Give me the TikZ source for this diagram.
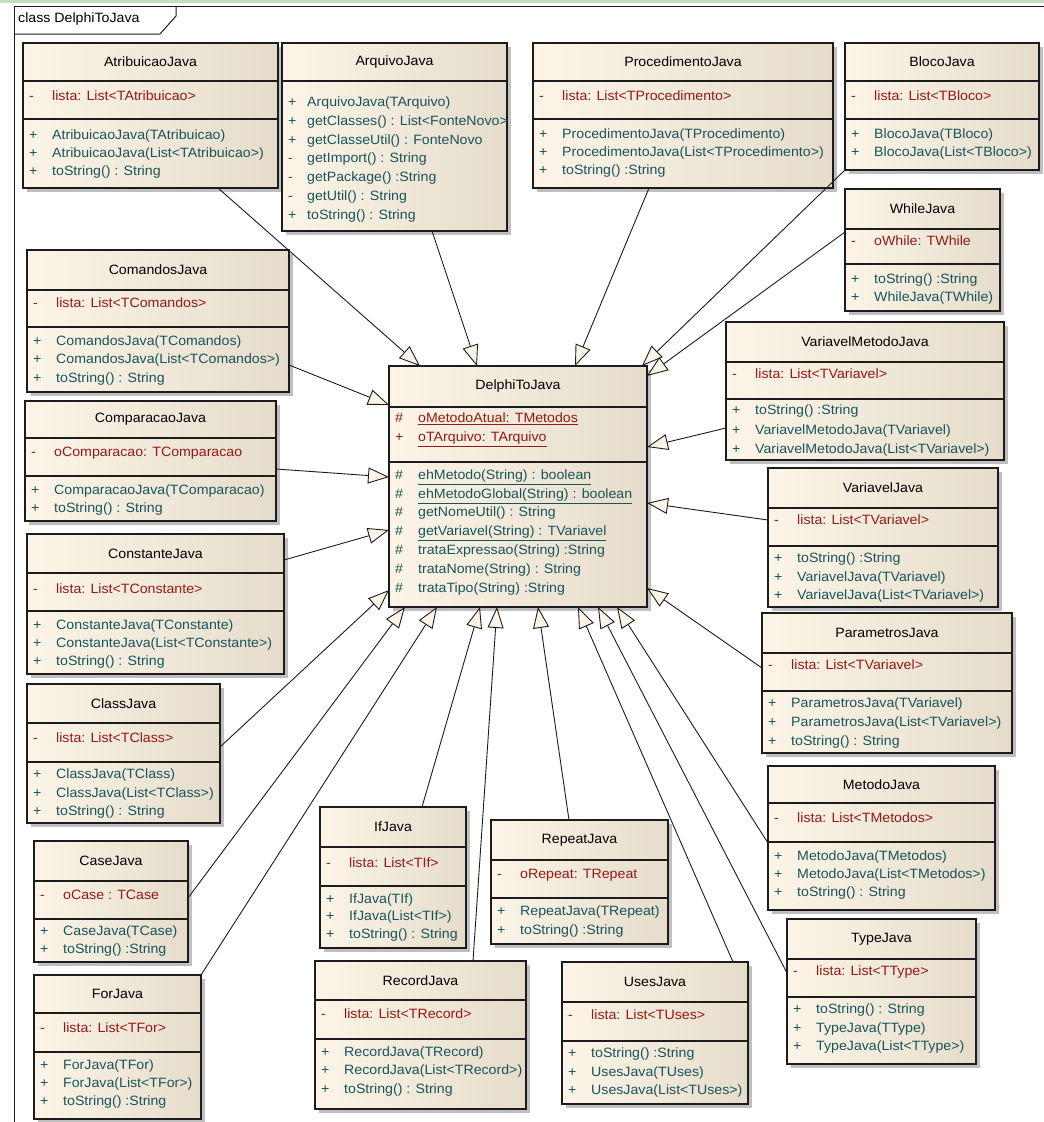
\documentclass[tikz,border=0pt]{standalone}
\usepackage{fontspec}
\setmainfont{Liberation Sans}[FakeStretch=1.05]
\usetikzlibrary{arrows.meta,shadows}

\definecolor{boxL}{RGB}{252,245,231}
\definecolor{boxR}{RGB}{229,220,203}
\definecolor{attrc}{RGB}{150,24,24}
\definecolor{methc}{RGB}{24,84,90}
\definecolor{edgec}{RGB}{28,28,28}
\definecolor{barc}{RGB}{200,218,200}

\newcommand\umlfont{\fontsize{13.5}{16}\selectfont}
% horizontal offset of member text from the box's left edge
\newcommand\memberoffset{29}

\tikzset{
  classbox/.style={draw=edgec, line width=1.3pt, left color=boxL, right color=boxR,
    inner sep=0pt, outer sep=0pt,
    drop shadow={shadow xshift=3.5pt, shadow yshift=-3.5pt, fill=black!50, opacity=0.5}},
  sepline/.style={draw=edgec, line width=1.2pt},
  ctitle/.style={font=\umlfont, text=black, inner sep=0pt},
  attr/.style={font=\umlfont, text=attrc, anchor=mid west, inner sep=0pt},
  meth/.style={font=\umlfont, text=methc, anchor=mid west, inner sep=0pt},
  gen/.style={draw=edgec, line width=0.9pt,
    -{Triangle[length=21pt, width=16pt, fill=boxL, line width=0.9pt]}},
}

% class box: name, title, x1, y1, x2, y2, y of the title separator
\newcommand\umlcls[7]{%
  \node[classbox, anchor=north west, minimum width={(#5-#3)*1pt},
        minimum height={(#6-#4)*1pt}] (#1) at (#3,#4) {};
  \draw[sepline] (#3,#7) -- (#5,#7);
  \node[ctitle] (#1-name) at ({(#3+#5)/2},{(#4+#7)/2}) {#2};
}
% compartment separator: x1, x2, y
\newcommand\csep[3]{\draw[sepline] (#1,#3) -- (#2,#3);}
% member row: node name, style, box x1, y, visibility, text
\newcommand\crow[6]{%
  \node[#2] (#1-v) at ({#3+6},#4) {#5};
  \node[#2] (#1) at ({#3+\memberoffset},#4) {#6};
}

\begin{document}
\begin{tikzpicture}[x=1pt, y=-1pt]
\useasboundingbox (0,0) rectangle (1044,1122);
\fill[white] (0,0) rectangle (1044,1122);

% window strip and diagram frame
\fill[barc] (0,0) rectangle (1044,3);
\draw[edgec, line width=1pt] (14,1130) -- (14,6) -- (1050,6);
\draw[edgec, line width=1pt] (14,34) -- (160,34) -- (176,16) -- (176,6);
\node[font=\umlfont, anchor=mid west, inner sep=0pt] (frame-label) at (18,20) {class DelphiToJava};

% ---------- top row ----------
\umlcls{atrib}{AtribuicaoJava}{23}{43}{278}{188}{81}
\csep{23}{278}{119}
\crow{atrib-a1}{attr}{23}{98}{-}{lista: List<TAtribuicao>}
\crow{atrib-m1}{meth}{23}{137}{+}{AtribuicaoJava(TAtribuicao)}
\crow{atrib-m2}{meth}{23}{155}{+}{AtribuicaoJava(List<TAtribuicao>)}
\crow{atrib-m3}{meth}{23}{173}{+}{toString() : String}

\umlcls{arq}{ArquivoJava}{282}{43}{507}{231}{81}
\renewcommand\memberoffset{25}
\crow{arq-m1}{meth}{282}{104}{+}{ArquivoJava(TArquivo)}
\crow{arq-m2}{meth}{282}{123}{+}{getClasses() : List<FonteNovo>}
\crow{arq-m3}{meth}{282}{141.5}{+}{getClasseUtil() : FonteNovo}
\crow{arq-m4}{meth}{282}{160}{-}{getImport() : String}
\crow{arq-m5}{meth}{282}{179}{-}{getPackage() :String}
\crow{arq-m6}{meth}{282}{198}{-}{getUtil() : String}
\crow{arq-m7}{meth}{282}{217}{+}{toString() : String}
\renewcommand\memberoffset{29}

\umlcls{proc}{ProcedimentoJava}{533}{43}{833}{188}{81}
\csep{533}{833}{119}
\crow{proc-a1}{attr}{533}{98}{-}{lista: List<TProcedimento>}
\crow{proc-m1}{meth}{533}{136}{+}{ProcedimentoJava(TProcedimento)}
\crow{proc-m2}{meth}{533}{154}{+}{ProcedimentoJava(List<TProcedimento>)}
\crow{proc-m3}{meth}{533}{172}{+}{toString() :String}

\umlcls{bloco}{BlocoJava}{845}{43}{1039}{170}{81}
\csep{845}{1039}{119}
\crow{bloco-a1}{attr}{845}{98}{-}{lista: List<TBloco>}
\crow{bloco-m1}{meth}{845}{136}{+}{BlocoJava(TBloco)}
\crow{bloco-m2}{meth}{845}{154}{+}{BlocoJava(List<TBloco>)}

\umlcls{while}{WhileJava}{845}{189}{1000}{311}{229}
\csep{845}{1000}{264}
\crow{while-a1}{attr}{845}{243}{-}{oWhile: TWhile}
\crow{while-m1}{meth}{845}{281}{+}{toString() :String}
\crow{while-m2}{meth}{845}{299}{+}{WhileJava(TWhile)}

% ---------- left column ----------
\umlcls{com}{ComandosJava}{27}{250}{289}{392}{290}
\csep{27}{289}{327}
\crow{com-a1}{attr}{27}{305}{-}{lista: List<TComandos>}
\crow{com-m1}{meth}{27}{343}{+}{ComandosJava(TComandos)}
\crow{com-m2}{meth}{27}{361}{+}{ComandosJava(List<TComandos>)}
\crow{com-m3}{meth}{27}{380}{+}{toString() : String}

\umlcls{comp}{ComparacaoJava}{25}{401}{276}{521}{438}
\csep{25}{276}{476}
\crow{comp-a1}{attr}{25}{454}{-}{oComparacao: TComparacao}
\crow{comp-m1}{meth}{25}{492}{+}{ComparacaoJava(TComparacao)}
\crow{comp-m2}{meth}{25}{510}{+}{toString() : String}

\umlcls{const}{ConstanteJava}{27}{534}{284}{674}{573}
\csep{27}{284}{611}
\crow{const-a1}{attr}{27}{591}{-}{lista: List<TConstante>}
\crow{const-m1}{meth}{27}{627}{+}{ConstanteJava(TConstante)}
\crow{const-m2}{meth}{27}{645}{+}{ConstanteJava(List<TConstante>)}
\crow{const-m3}{meth}{27}{663}{+}{toString() : String}

\umlcls{class}{ClassJava}{27}{684}{220}{823}{723}
\csep{27}{220}{762}
\crow{class-a1}{attr}{27}{740}{-}{lista: List<TClass>}
\crow{class-m1}{meth}{27}{776}{+}{ClassJava(TClass)}
\crow{class-m2}{meth}{27}{795}{+}{ClassJava(List<TClass>)}
\crow{class-m3}{meth}{27}{813}{+}{toString() : String}

\umlcls{case}{CaseJava}{34}{841}{188}{962}{881}
\csep{34}{188}{919}
\crow{case-a1}{attr}{34}{897}{-}{oCase : TCase}
\crow{case-m1}{meth}{34}{933}{+}{CaseJava(TCase)}
\crow{case-m2}{meth}{34}{951}{+}{toString() :String}

\umlcls{for}{ForJava}{34}{975}{201}{1119}{1013}
\csep{34}{201}{1052}
\crow{for-a1}{attr}{34}{1030}{-}{lista: List<TFor>}
\crow{for-m1}{meth}{34}{1067}{+}{ForJava(TFor)}
\crow{for-m2}{meth}{34}{1085}{+}{ForJava(List<TFor>)}
\crow{for-m3}{meth}{34}{1103}{+}{toString() :String}

% ---------- bottom row ----------
\umlcls{if}{IfJava}{320}{807}{466}{948}{847}
\csep{320}{466}{886}
\crow{if-a1}{attr}{320}{865}{-}{lista: List<TIf>}
\crow{if-m1}{meth}{320}{901}{+}{IfJava(TIf)}
\crow{if-m2}{meth}{320}{918}{+}{IfJava(List<TIf>)}
\crow{if-m3}{meth}{320}{936}{+}{toString() : String}

\umlcls{repeat}{RepeatJava}{491}{820}{668}{944}{860}
\csep{491}{668}{898}
\crow{repeat-a1}{attr}{491}{876}{-}{oRepeat: TRepeat}
\crow{repeat-m1}{meth}{491}{913}{+}{RepeatJava(TRepeat)}
\crow{repeat-m2}{meth}{491}{932}{+}{toString() :String}

\umlcls{record}{RecordJava}{315}{961}{526}{1109}{1000}
\csep{315}{526}{1039}
\crow{record-a1}{attr}{315}{1016}{-}{lista: List<TRecord>}
\crow{record-m1}{meth}{315}{1054}{+}{RecordJava(TRecord)}
\crow{record-m2}{meth}{315}{1072}{+}{RecordJava(List<TRecord>)}
\crow{record-m3}{meth}{315}{1091}{+}{toString() : String}

\umlcls{uses}{UsesJava}{562}{962}{748}{1104}{1002}
\csep{562}{748}{1041}
\crow{uses-a1}{attr}{562}{1017}{-}{lista: List<TUses>}
\crow{uses-m1}{meth}{562}{1055}{+}{toString() :String}
\crow{uses-m2}{meth}{562}{1074}{+}{UsesJava(TUses)}
\crow{uses-m3}{meth}{562}{1092}{+}{UsesJava(List<TUses>)}

% ---------- right column ----------
\umlcls{varmet}{VariavelMetodoJava}{726}{322}{1004}{460}{362}
\csep{726}{1004}{399}
\crow{varmet-a1}{attr}{726}{376}{-}{lista: List<TVariavel>}
\crow{varmet-m1}{meth}{726}{412}{+}{toString() :String}
\crow{varmet-m2}{meth}{726}{432}{+}{VariavelMetodoJava(TVariavel)}
\crow{varmet-m3}{meth}{726}{451}{+}{VariavelMetodoJava(List<TVariavel>)}

\umlcls{var}{VariavelJava}{768}{468}{998}{607}{508}
\csep{768}{998}{546}
\crow{var-a1}{attr}{768}{522}{-}{lista: List<TVariavel>}
\crow{var-m1}{meth}{768}{560}{+}{toString() :String}
\crow{var-m2}{meth}{768}{579}{+}{VariavelJava(TVariavel)}
\crow{var-m3}{meth}{768}{597}{+}{VariavelJava(List<TVariavel>)}

\umlcls{param}{ParametrosJava}{762}{613}{1012}{753}{653}
\csep{762}{1012}{691}
\crow{param-a1}{attr}{762}{667}{-}{lista: List<TVariavel>}
\crow{param-m1}{meth}{762}{705}{+}{ParametrosJava(TVariavel)}
\crow{param-m2}{meth}{762}{724}{+}{ParametrosJava(List<TVariavel>)}
\crow{param-m3}{meth}{762}{743}{+}{toString() : String}

\umlcls{metodo}{MetodoJava}{768}{766}{995}{910}{803}
\csep{768}{995}{842}
\crow{metodo-a1}{attr}{768}{820}{-}{lista: List<TMetodos>}
\crow{metodo-m1}{meth}{768}{858}{+}{MetodoJava(TMetodos)}
\crow{metodo-m2}{meth}{768}{876}{+}{MetodoJava(List<TMetodos>)}
\crow{metodo-m3}{meth}{768}{894}{+}{toString() : String}

\umlcls{type}{TypeJava}{787}{919}{976}{1064}{959}
\csep{787}{976}{997}
\crow{type-a1}{attr}{787}{973}{-}{lista: List<TType>}
\crow{type-m1}{meth}{787}{1011}{+}{toString() : String}
\crow{type-m2}{meth}{787}{1030}{+}{TypeJava(TType)}
\crow{type-m3}{meth}{787}{1048}{+}{TypeJava(List<TType>)}

% ---------- central class ----------
\umlcls{d2j}{DelphiToJava}{389}{366}{647}{607}{407}
\csep{389}{647}{462}
\crow{d2j-a1}{attr}{389}{420}{\#}{\underline{oMetodoAtual: TMetodos}}
\crow{d2j-a2}{attr}{389}{439}{+}{\underline{oTArquivo: TArquivo}}
\crow{d2j-m1}{meth}{389}{477}{\#}{\underline{ehMetodo(String) : boolean}}
\crow{d2j-m2}{meth}{389}{496}{\#}{\underline{ehMetodoGlobal(String) : boolean}}
\crow{d2j-m3}{meth}{389}{514}{\#}{getNomeUtil() : String}
\crow{d2j-m4}{meth}{389}{533}{\#}{\underline{getVariavel(String) : TVariavel}}
\crow{d2j-m5}{meth}{389}{552}{\#}{trataExpressao(String) :String}
\crow{d2j-m6}{meth}{389}{571}{\#}{trataNome(String) : String}
\crow{d2j-m7}{meth}{389}{590}{\#}{trataTipo(String) :String}

% ---------- generalizations ----------
\draw[gen] ([xshift=195pt]atrib.south west) -- ([xshift=31pt]d2j.north west);
\draw[gen] ([xshift=150pt]arq.south west) -- ([xshift=88pt]d2j.north west);
\draw[gen] ([xshift=116pt]proc.south west) -- ([xshift=186pt]d2j.north west);
\draw[gen] (bloco.south west) -- ([xshift=-5pt]d2j.north east);
\draw[gen] ([yshift=-43pt]while.north west) -- ([yshift=-10pt]d2j.north east);
\draw[gen] ([yshift=-106pt]varmet.north west) -- ([yshift=-81pt]d2j.north east);
\draw[gen] ([yshift=-52pt]var.north west) -- ([yshift=-137pt]d2j.north east);
\draw[gen] ([yshift=-55pt]param.north west) -- ([yshift=-222pt]d2j.north east);
\draw[gen] ([yshift=-77pt]metodo.north west) -- ([xshift=-30pt]d2j.south east);
\draw[gen] ([yshift=-54pt]type.north west) -- ([xshift=-49pt]d2j.south east);
\draw[gen] ([xshift=-15pt]uses.north east) -- ([xshift=-69pt]d2j.south east);
\draw[gen] ([xshift=78pt]repeat.north west) -- ([xshift=149pt]d2j.south west);
\draw[gen] ([xshift=158pt]record.north west) -- ([xshift=108pt]d2j.south west);
\draw[gen] ([xshift=102pt]if.north west) -- ([xshift=91pt]d2j.south west);
\draw[gen] (for.north east) -- ([xshift=48pt]d2j.south west);
\draw[gen] ([yshift=-57pt]case.north east) -- ([xshift=16pt]d2j.south west);
\draw[gen] ([yshift=-63pt]class.north east) -- ([yshift=17pt]d2j.south west);
\draw[gen] ([yshift=-26pt]const.north east) -- ([yshift=-164pt]d2j.north west);
\draw[gen] ([yshift=-68pt]comp.north east) -- ([yshift=-111pt]d2j.north west);
\draw[gen] ([yshift=-115pt]com.north east) -- ([yshift=-39pt]d2j.north west);
\end{tikzpicture}
\end{document}
